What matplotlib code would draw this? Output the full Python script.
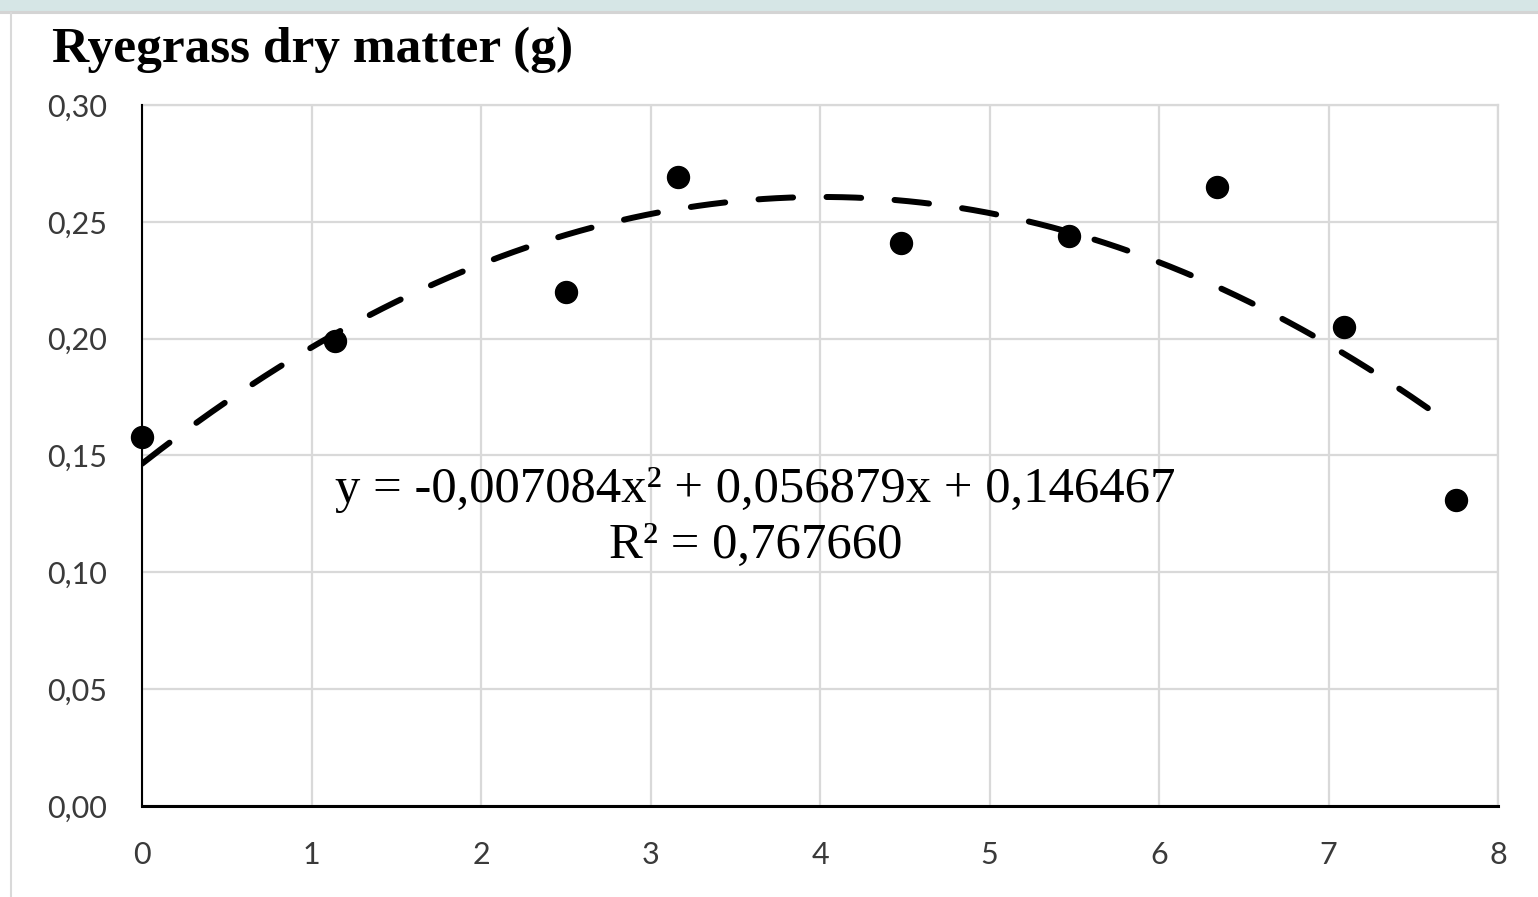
import numpy as np
import matplotlib
matplotlib.use("Agg")
import matplotlib.pyplot as plt
from matplotlib.patches import Rectangle
from matplotlib.lines import Line2D

# measured points (x, dry matter in g)
x_vals = [0.0, 1.14, 2.50, 3.16, 4.48, 5.47, 6.34, 7.09, 7.75]
y_vals = [0.158, 0.199, 0.220, 0.269, 0.241, 0.244, 0.265, 0.205, 0.131]

# quadratic trend line as printed on the chart
trend_coef = [-0.007084, 0.056879, 0.146467]
r_squared = "0,767660"

x_ticks = [0, 1, 2, 3, 4, 5, 6, 7, 8]
y_ticks = [0.00, 0.05, 0.10, 0.15, 0.20, 0.25, 0.30]
y_tick_labels = ["0,00", "0,05", "0,10", "0,15", "0,20", "0,25", "0,30"]

title = "Ryegrass dry matter (g)"

fig = plt.figure(figsize=(15.38, 8.97), dpi=100)

# frame decoration around the chart
fig.patches.append(Rectangle((0, 1 - 11 / 897), 1, 11 / 897, transform=fig.transFigure,
                             facecolor="#d6e6e6", edgecolor="none", zorder=0))
fig.lines.append(Line2D([0, 1], [1 - 12.5 / 897, 1 - 12.5 / 897], transform=fig.transFigure,
                        color="#d4d4d4", lw=2.2))
fig.lines.append(Line2D([11 / 1538, 11 / 1538], [0, 1 - 13 / 897], transform=fig.transFigure,
                        color="#d9d9d9", lw=1.5))

ax = fig.add_axes([142 / 1538, 91 / 897, 1356 / 1538, 701 / 897])

ax.set_xlim(0, 8)
ax.set_ylim(0, 0.30)
ax.set_xticks(x_ticks)
ax.set_yticks(y_ticks)
ax.set_yticklabels(y_tick_labels)
ax.tick_params(length=0, labelsize=22, colors="#3a3a3a")
ax.tick_params(axis="y", pad=25)
ax.tick_params(axis="x", pad=25)
for lab in ax.get_xticklabels() + ax.get_yticklabels():
    lab.set_fontfamily("Lato")

ax.grid(True, color="#d9d9d9", lw=1.6)
ax.set_axisbelow(True)
for side in ["top", "right"]:
    ax.spines[side].set_visible(False)
ax.spines["left"].set_linewidth(1.5)
ax.spines["bottom"].set_linewidth(2.2)
ax.spines["left"].set_zorder(3)
ax.spines["bottom"].set_zorder(3)
# top and right edge drawn as grid lines
ax.axhline(0.30, color="#d9d9d9", lw=1.6, clip_on=False, zorder=1)
ax.axvline(8, color="#d9d9d9", lw=1.6, clip_on=False, zorder=1)

xs = np.linspace(0, 7.72, 300)
ax.plot(xs, np.polyval(trend_coef, xs), color="black", lw=4.3,
        dashes=(5.8, 5.6), solid_capstyle="round", dash_capstyle="round", zorder=4)

ax.scatter(x_vals, y_vals, s=250, color="black", zorder=5, clip_on=False)

ax.text(3.62, 0.1352, "y = -0,007084x² + 0,056879x + 0,146467", ha="center", va="center",
        fontsize=36.5, family="Liberation Serif")
ax.text(3.62, 0.1113, "R² = " + r_squared, ha="center", va="center",
        fontsize=36.5, family="Liberation Serif")

fig.text(52 / 1538, 1 - 50 / 897, title, ha="left", va="center", fontsize=37,
         fontweight="bold", family="Liberation Serif")

fig.savefig("out.png", dpi=100)
